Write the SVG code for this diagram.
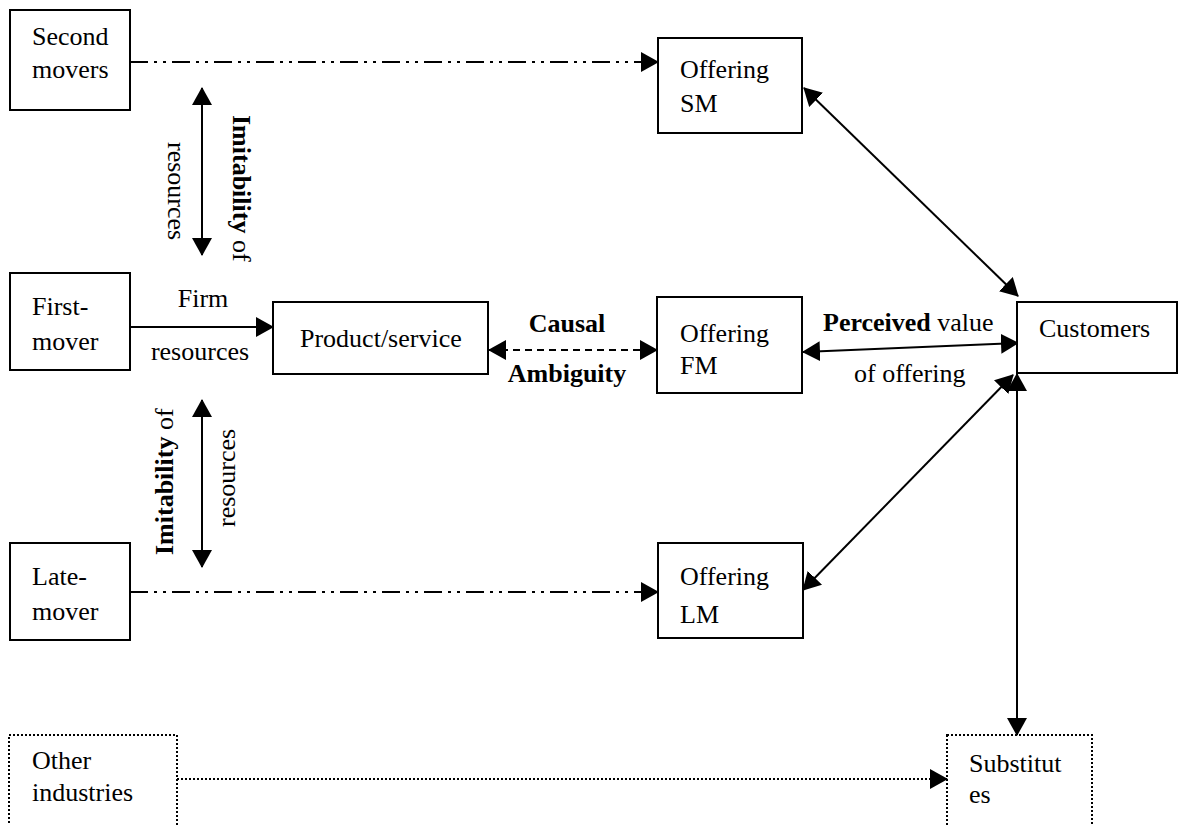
<svg xmlns="http://www.w3.org/2000/svg" width="1184" height="825" viewBox="0 0 1184 825">
<style>
.box{fill:#fff;stroke:#000;stroke-width:2}
.dbox{fill:none;stroke:#000;stroke-width:2;stroke-dasharray:2 2}
.t{font-family:"Liberation Serif","Times New Roman",serif;font-size:26px;fill:#000}
.b{font-weight:bold}
.ln{stroke:#000;stroke-width:2;fill:none}
.dd{stroke-dasharray:18 6 3 6 3 6}
.da{stroke-dasharray:7 5}
.dot{stroke-dasharray:2 2}
</style>
<defs>
<marker id="ah" viewBox="0 0 18 20" refX="17" refY="10" markerWidth="18" markerHeight="20" markerUnits="userSpaceOnUse" orient="auto-start-reverse">
<path d="M0,0 L18,10 L0,20 z" fill="#000" stroke="none"/>
</marker>
</defs>
<rect width="1184" height="825" fill="#fff"/>
<g id="connectors">
<line class="ln dd" x1="130" y1="62" x2="658" y2="62" marker-end="url(#ah)"/>
<line class="ln dd" x1="130" y1="592" x2="658" y2="592" marker-end="url(#ah)"/>
<line class="ln" x1="202" y1="88" x2="202" y2="255" marker-start="url(#ah)" marker-end="url(#ah)"/>
<line class="ln" x1="202" y1="400" x2="202" y2="567" marker-start="url(#ah)" marker-end="url(#ah)"/>
<line class="ln" x1="130" y1="327" x2="273" y2="327" marker-end="url(#ah)"/>
<line class="ln da" x1="489" y1="350" x2="657" y2="350" marker-start="url(#ah)" marker-end="url(#ah)"/>
<line class="ln" x1="803" y1="352" x2="1018" y2="343" marker-start="url(#ah)" marker-end="url(#ah)"/>
<line class="ln" x1="804" y1="88" x2="1018" y2="296" marker-start="url(#ah)" marker-end="url(#ah)"/>
<line class="ln" x1="803" y1="590" x2="1013" y2="375" marker-start="url(#ah)" marker-end="url(#ah)"/>
<line class="ln" x1="1017" y1="374" x2="1017" y2="735" marker-start="url(#ah)" marker-end="url(#ah)"/>
<line class="ln dot" x1="177" y1="779" x2="947" y2="779" marker-end="url(#ah)"/>
<text class="t" transform="translate(233,115) rotate(90)"><tspan class="b">Imitability</tspan> of</text>
<text class="t" transform="translate(168,142) rotate(90)">resources</text>
<text class="t" transform="translate(173,555) rotate(-90)"><tspan class="b">Imitability</tspan> of</text>
<text class="t" transform="translate(235,527) rotate(-90)">resources</text>
<text class="t" x="203" y="307" text-anchor="middle">Firm</text>
<text class="t" x="200" y="360" text-anchor="middle">resources</text>
<text class="t b" x="567" y="332" text-anchor="middle">Causal</text>
<text class="t b" x="567" y="382" text-anchor="middle">Ambiguity</text>
<text class="t" x="823" y="331"><tspan class="b">Perceived</tspan> value</text>
<text class="t" x="854" y="382">of offering</text>
</g>
<g id="second-movers">
<rect class="box" x="10" y="10" width="120" height="100"/>
<text class="t" x="32" y="45">Second</text>
<text class="t" x="32" y="78">movers</text>
</g>
<g id="first-mover">
<rect class="box" x="10" y="273" width="120" height="97"/>
<text class="t" x="32" y="315">First-</text>
<text class="t" x="32" y="350">mover</text>
</g>
<g id="late-mover">
<rect class="box" x="10" y="543" width="120" height="97"/>
<text class="t" x="32" y="585">Late-</text>
<text class="t" x="32" y="620">mover</text>
</g>
<g id="product-service">
<rect class="box" x="273" y="302" width="215" height="72"/>
<text class="t" x="300" y="347">Product/service</text>
</g>
<g id="offering-sm">
<rect class="box" x="658" y="38" width="144" height="95"/>
<text class="t" x="680" y="78">Offering</text>
<text class="t" x="680" y="112">SM</text>
</g>
<g id="offering-fm">
<rect class="box" x="657" y="297" width="145" height="96"/>
<text class="t" x="680" y="342">Offering</text>
<text class="t" x="680" y="374">FM</text>
</g>
<g id="offering-lm">
<rect class="box" x="658" y="543" width="145" height="95"/>
<text class="t" x="680" y="585">Offering</text>
<text class="t" x="680" y="623">LM</text>
</g>
<g id="customers">
<rect class="box" x="1017" y="302" width="160" height="71"/>
<text class="t" x="1039" y="337">Customers</text>
</g>
<g id="other-industries">
<rect class="dbox" x="9" y="735" width="168" height="130"/>
<text class="t" x="32" y="769">Other</text>
<text class="t" x="32" y="801">industries</text>
</g>
<g id="substitutes">
<rect class="dbox" x="947" y="735" width="145" height="130"/>
<text class="t" x="969" y="772">Substitut</text>
<text class="t" x="969" y="803">es</text>
</g>
</svg>
